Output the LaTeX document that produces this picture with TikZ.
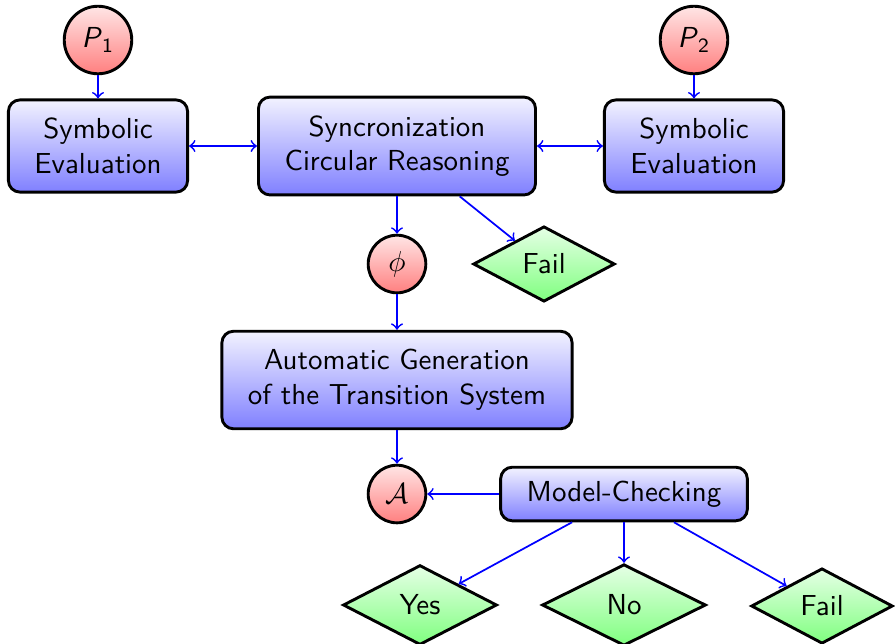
\documentclass[tikz,border=0pt]{standalone}
\usetikzlibrary{shapes.geometric}
\begin{document}
\begin{tikzpicture}[x=0.01215cm,y=-0.01215cm,font=\sffamily,
  proc/.style={rectangle,rounded corners=4pt,draw,line width=1pt,top color=blue!5,bottom color=blue!50,align=center,inner xsep=9pt,inner ysep=6.3pt},
  inp/.style={circle,draw,line width=1pt,top color=red!10,bottom color=red!50,inner sep=2pt,minimum size=0.7cm},
  res/.style={diamond,draw,line width=1pt,top color=green!10,bottom color=green!50,inner sep=1pt},
  flow/.style={->,blue,semithick}]
\useasboundingbox (0,0) rectangle (895,643);

\node[inp,minimum size=0.82cm] (p1) at (98,40) {\textit{P}\textsubscript{1}};
\node[inp,minimum size=0.82cm] (p2) at (694,40) {\textit{P}\textsubscript{2}};
\node[proc] (sym1) at (98,146) {Symbolic\\Evaluation};
\node[proc] (sync) at (397,146) {Syncronization\\Circular Reasoning};
\node[proc] (sym2) at (694,146) {Symbolic\\Evaluation};
\node[inp] (phi) at (397,264) {$\phi$};
\node[res,minimum width=1.72cm,minimum height=0.87cm] (fail1) at (544,264) {Fail};
\node[proc] (gen) at (397,380) {Automatic Generation\\of the Transition System};
\node[inp] (aut) at (397,494) {$\mathcal{A}$};
\node[proc,inner ysep=4.7pt] (mc) at (624,494) {Model-Checking};
\node[res,minimum width=1.87cm,minimum height=0.97cm] (yes) at (420,605) {Yes};
\node[res,minimum width=1.99cm,minimum height=0.99cm] (no) at (624,605) {No};
\node[res,minimum width=1.72cm,minimum height=0.89cm] (fail2) at (822,606) {Fail};

\draw[flow] (p1) -- (sym1);
\draw[flow] (p2) -- (sym2);
\draw[flow,<->] (sym1) -- (sync);
\draw[flow,<->] (sync) -- (sym2);
\draw[flow] (sync) -- (phi);
\draw[flow] (sync) -- (fail1);
\draw[flow] (phi) -- (gen);
\draw[flow] (gen) -- (aut);
\draw[flow] (mc) -- (aut);
\draw[flow] (mc) -- (yes);
\draw[flow] (mc) -- (no);
\draw[flow] (mc) -- (fail2);
\end{tikzpicture}
\end{document}
